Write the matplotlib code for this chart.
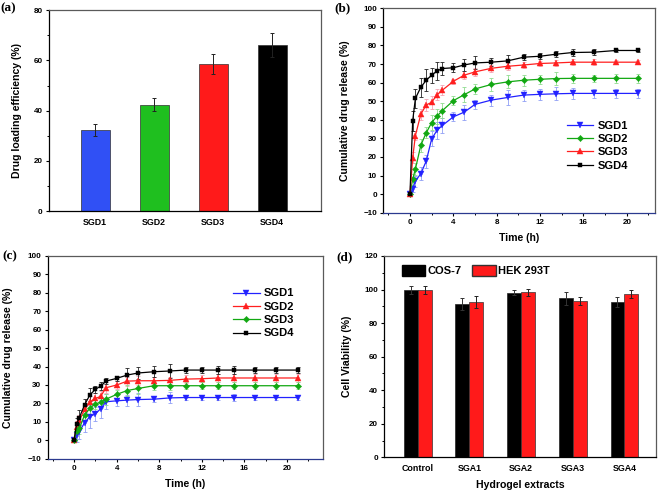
import matplotlib
matplotlib.use('Agg')
import matplotlib.pyplot as plt
from matplotlib.ticker import MultipleLocator
from matplotlib.patches import Patch

plt.rcParams['font.family'] = ['Liberation Sans', 'DejaVu Sans']
plt.rcParams['font.weight'] = 'bold'
plt.rcParams['axes.labelweight'] = 'bold'

# ---------------- data ----------------
a_labels = ['SGD1', 'SGD2', 'SGD3', 'SGD4']
a_values = [32.2, 42.4, 58.6, 66.2]
a_errors = [2.4, 2.6, 3.9, 4.9]

time_h = [0, 0.25, 0.5, 1, 1.5, 2, 2.5, 3, 4, 5, 6, 7.5, 9, 10.5, 12, 13.5, 15, 17, 19, 21]

b_sgd1 = [0, 3, 7, 11, 17.8, 29.7, 34.4, 37, 41.6, 44.1, 48.3, 50.6, 52, 53.3, 53.7, 54, 54.2, 54.2, 54.2, 54.2]
b_sgd1_err = [0.5, 2, 3, 3.5, 3.5, 4, 4.5, 4, 2.5, 4, 2.5, 3, 4, 3, 3, 3.5, 3, 2.5, 2.5, 2.5]
b_sgd2 = [0, 8, 13.5, 26.3, 33, 38.5, 42, 45, 50.3, 53.5, 56.6, 59, 60.4, 61.3, 61.8, 62.2, 62.3, 62.3, 62.3, 62.3]
b_sgd2_err = [0.5, 3, 3, 3.5, 3, 4, 4, 4, 2.5, 4, 2.5, 3.5, 3.5, 3, 2.5, 3.5, 2.5, 2, 2.5, 2.5]
b_sgd3 = [0, 19.5, 31.5, 43, 48, 49.4, 53.5, 56, 60.7, 64, 65.8, 67.7, 68.8, 69.5, 70.3, 70.6, 71, 71, 71, 71]
b_sgd3_err = [0.5, 3, 2.5, 3, 3, 3.5, 3, 2.5, 1.5, 2, 2, 2, 2, 1.5, 1.5, 1.5, 1.5, 1.5, 1, 1]
b_sgd4 = [0, 39.5, 51.5, 57.5, 61.3, 64, 66.3, 67.6, 68, 69.5, 70.6, 71, 71.7, 73.7, 74.2, 75.3, 76.2, 76.4, 77.3, 77.3]
b_sgd4_err = [0.5, 5.5, 5, 5, 6, 4, 5, 3.5, 2.5, 3, 3.5, 2, 3, 1.5, 1.5, 1.5, 2, 1.5, 1, 1]

c_sgd1 = [0, 2.9, 4.7, 9.6, 12.9, 14.3, 17.1, 20.9, 21.4, 21.8, 22.1, 22.3, 23, 23.2, 23.2, 23.2, 23.2, 23.2, 23.2, 23.2]
c_sgd1_err = [0.5, 4, 4, 5, 6, 4, 5, 4, 3, 3, 3.5, 1.5, 3, 1.5, 1.5, 1.5, 2, 1.5, 1.5, 1.5]
c_sgd2 = [0, 7.4, 10.9, 16.7, 20.9, 22.7, 23.8, 28.5, 30, 32.1, 32.3, 32.3, 32.5, 33.2, 33.4, 33.8, 33.8, 33.8, 33.8, 33.8]
c_sgd2_err = [0.5, 3, 3, 3, 3, 3, 3, 3, 2, 2.5, 2.5, 2, 2, 2, 2, 2, 2, 2, 2, 2]
c_sgd3 = [0, 5.3, 6.5, 13.8, 17.4, 19.8, 20.5, 22.3, 24.9, 27, 28.1, 29.6, 29.6, 29.6, 29.6, 29.6, 29.6, 29.6, 29.6, 29.6]
c_sgd3_err = [0.5, 3, 3, 3, 3, 3, 3, 3, 2.5, 3, 3, 2.5, 2.5, 2, 2, 2, 2, 2, 2, 2]
c_sgd4 = [0, 8.9, 12.3, 19.4, 24.7, 27.6, 29.4, 32.1, 33.6, 35.4, 36.5, 37.2, 37.6, 38.1, 38.1, 38.1, 38.1, 38.1, 38.1, 38.1]
c_sgd4_err = [0.5, 3, 4, 3, 3.5, 2, 2, 1.5, 1.5, 4, 3, 3, 4, 1.5, 1.5, 2, 2, 1.5, 1.5, 1.5]

d_labels = ['Control', 'SGA1', 'SGA2', 'SGA3', 'SGA4']
d_cos7 = [100, 91.2, 98.2, 94.8, 92.4]
d_cos7_err = [2.4, 3.5, 1.5, 3.8, 3.0]
d_hek = [100, 92.4, 98.4, 93.2, 97.4]
d_hek_err = [2.4, 3.5, 2.0, 2.5, 2.5]

# ---------------- style ----------------
BLUE = '#2222ff'
GREEN = '#12a812'
RED = '#ff1f1f'
BLACK = '#000000'
LBLUE = '#8f9ff5'
LGREEN = '#8fdc8f'
LRED = '#f5a3b3'

TICK_FS = 5.8
CAT_FS = 6.4
LAB_FS = 7.6
LEG_FS = 8.0

fig = plt.figure(figsize=(6.61, 4.95), dpi=100)

def style_axes(ax, bottom_color='black'):
    ax.spines['left'].set_color('black')
    ax.spines['bottom'].set_color(bottom_color)
    for s in ['top', 'right']:
        ax.spines[s].set_color('#5a5a5a')
    for s in ax.spines.values():
        s.set_linewidth(0.9)
    ax.tick_params(axis='both', which='major', direction='out', length=2.5, width=0.8,
                   labelsize=TICK_FS, pad=2)
    ax.tick_params(axis='both', which='minor', direction='out', length=1.5, width=0.7)
    ax.tick_params(top=False, right=False, which='both')
    for t in ax.get_xticklabels() + ax.get_yticklabels():
        t.set_fontweight('bold')

# ---------------- (a) ----------------
ax = fig.add_axes([49/661, 1-211/495, 271.7/661, 200.7/495])
xa = list(range(len(a_labels)))
ax.bar(xa, a_values, width=0.49, color=['#3050f5', '#1fbf1f', '#ff1a1a', '#000000'],
       edgecolor='#303030', linewidth=0.5, zorder=2)
ax.errorbar(xa, a_values, yerr=a_errors, fmt='none', ecolor='#222222',
            elinewidth=0.7, capsize=1.6, capthick=0.7, zorder=3)
ax.set_xlim(-0.78, 3.82)
ax.set_ylim(0, 80)
ax.yaxis.set_major_locator(MultipleLocator(20))
ax.yaxis.set_minor_locator(MultipleLocator(10))
ax.set_xticks(xa)
ax.set_xticklabels(a_labels)
style_axes(ax)
ax.tick_params(axis='x', length=0, labelsize=CAT_FS, pad=5)
for t in ax.get_xticklabels():
    t.set_fontweight('bold')
ax.set_ylabel('Drug loading efficiency (%)', fontsize=LAB_FS, fontweight='bold')
ax.yaxis.set_label_coords(-0.10, 0.5)

# ---------------- release curve helper ----------------
def draw_release(ax, series, bottom_color):
    for vals, errs, col, ecol, mk, ms, lab in series:
        ax.errorbar(time_h, vals, yerr=errs, fmt='none', ecolor=ecol, elinewidth=0.6,
                    capsize=1.6, capthick=0.6, zorder=2)
    for vals, errs, col, ecol, mk, ms, lab in series:
        ax.plot(time_h, vals, color=col, marker=mk, markersize=ms, linewidth=0.9,
                markeredgewidth=0.3, label=lab, zorder=3)
    ax.set_ylim(-10, 100)
    ax.yaxis.set_major_locator(MultipleLocator(10))
    ax.xaxis.set_major_locator(MultipleLocator(4))
    ax.xaxis.set_minor_locator(MultipleLocator(2))
    style_axes(ax, bottom_color)
    ax.set_ylabel('Cumulative drug release (%)', fontsize=LAB_FS, fontweight='bold')
    ax.set_xlabel('Time (h)', fontsize=LAB_FS, fontweight='bold', labelpad=5)

# ---------------- (b) ----------------
ax = fig.add_axes([383.3/661, 1-212.7/495, 271.7/661, 204.4/495])
series_b = [
    (b_sgd1, b_sgd1_err, BLUE, LBLUE, 'v', 3.8, 'SGD1'),
    (b_sgd2, b_sgd2_err, GREEN, LGREEN, 'D', 3.2, 'SGD2'),
    (b_sgd3, b_sgd3_err, RED, LRED, '^', 3.8, 'SGD3'),
    (b_sgd4, b_sgd4_err, BLACK, '#222222', 's', 3.4, 'SGD4'),
]
draw_release(ax, series_b, '#2b3a8f')
ax.set_xlim(-2.46, 22.6)
ax.yaxis.set_label_coords(-0.123, 0.5)
ax.legend(loc='upper left', bbox_to_anchor=(0.675, 0.45), frameon=False,
          handlelength=2.4, handletextpad=0.35, labelspacing=0.3,
          borderpad=0, borderaxespad=0, prop={'weight': 'bold', 'size': LEG_FS})

# ---------------- (c) ----------------
ax = fig.add_axes([47.7/661, 1-458.7/495, 275.6/661, 202.7/495])
series_c = [
    (c_sgd1, c_sgd1_err, BLUE, LBLUE, 'v', 3.8, 'SGD1'),
    (c_sgd2, c_sgd2_err, RED, LRED, '^', 3.8, 'SGD2'),
    (c_sgd3, c_sgd3_err, GREEN, LGREEN, 'D', 3.2, 'SGD3'),
    (c_sgd4, c_sgd4_err, BLACK, '#222222', 's', 3.4, 'SGD4'),
]
draw_release(ax, series_c, '#2b3a8f')
ax.set_xlim(-2.47, 23.4)
ax.yaxis.set_label_coords(-0.125, 0.5)
ax.legend(loc='upper left', bbox_to_anchor=(0.672, 0.84), frameon=False,
          handlelength=2.4, handletextpad=0.35, labelspacing=0.3,
          borderpad=0, borderaxespad=0, prop={'weight': 'bold', 'size': LEG_FS})

# ---------------- (d) ----------------
ax = fig.add_axes([384.3/661, 1-457.3/495, 271.7/661, 201.3/495])
xd = list(range(len(d_labels)))
w = 0.27
x1 = [x - w/2 for x in xd]
x2 = [x + w/2 for x in xd]
ax.bar(x1, d_cos7, width=w, color='black', edgecolor='#222222', linewidth=0.5, zorder=2)
ax.bar(x2, d_hek, width=w, color='#ff1a1a', edgecolor='#333333', linewidth=0.5, zorder=2)
ax.errorbar(x1, d_cos7, yerr=d_cos7_err, fmt='none', ecolor='#333333', elinewidth=0.7,
            capsize=1.6, capthick=0.7, zorder=3)
ax.errorbar(x2, d_hek, yerr=d_hek_err, fmt='none', ecolor='#222222', elinewidth=0.7,
            capsize=1.6, capthick=0.7, zorder=3)
ax.set_xlim(-0.645, 4.61)
ax.set_ylim(0, 120)
ax.yaxis.set_major_locator(MultipleLocator(20))
ax.yaxis.set_minor_locator(MultipleLocator(10))
ax.set_xticks(xd)
ax.set_xticklabels(d_labels)
style_axes(ax)
ax.tick_params(axis='x', length=0, labelsize=CAT_FS, pad=5)
for t in ax.get_xticklabels():
    t.set_fontweight('bold')
ax.set_ylabel('Cell Viability (%)', fontsize=LAB_FS, fontweight='bold')
ax.yaxis.set_label_coords(-0.12, 0.5)
ax.set_xlabel('Hydrogel extracts', fontsize=LAB_FS, fontweight='bold', labelpad=5)
handles = [Patch(facecolor='black', edgecolor='black', label='COS-7'),
           Patch(facecolor='#ff1a1a', edgecolor='#333333', label='HEK 293T')]
ax.legend(handles=handles, loc='upper left', bbox_to_anchor=(0.064, 0.955), ncol=2,
          frameon=False, handlelength=2.1, handleheight=1.1, handletextpad=0.2,
          columnspacing=1.0, borderpad=0, borderaxespad=0,
          prop={'weight': 'bold', 'size': LEG_FS})

# ---------------- panel labels ----------------
for txt, x, y in [('(a)', 0, 8), ('(b)', 334, 8), ('(c)', 2, 256), ('(d)', 336, 257)]:
    fig.text(x/661, 1-y/495, txt, fontsize=9.5, fontweight='bold',
             family=['Liberation Serif', 'DejaVu Serif'], ha='left', va='center')

fig.savefig('out.png', dpi=100)
